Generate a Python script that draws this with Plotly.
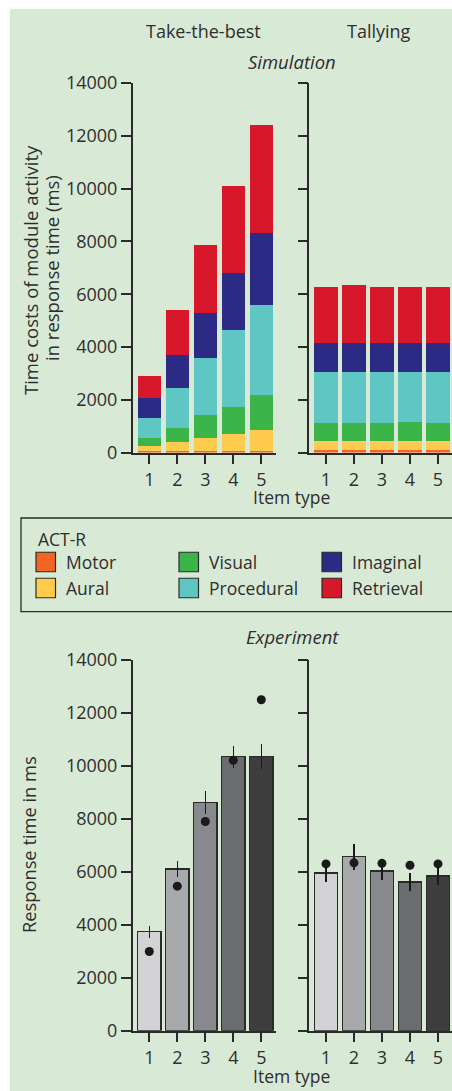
import plotly.graph_objects as go

# ---------------- data ----------------
item_types = [1, 2, 3, 4, 5]
y_ticks = [0, 2000, 4000, 6000, 8000, 10000, 12000, 14000]
y_ticktext = ["0", "2000", "4000", "6000", "8000", "10000", "12000", "14000"]

modules = ["Motor", "Aural", "Visual", "Procedural", "Imaginal", "Retrieval"]
module_colors = ["#f26522", "#ffcb4f", "#3bb44a", "#5fc6c3", "#2b2a84", "#d7182a"]

# Simulation (stacked module time costs, ms)
ttb_motor = [60, 60, 60, 60, 60]
ttb_aural = [190, 340, 500, 640, 800]
ttb_visual = [300, 530, 860, 1030, 1330]
ttb_procedural = [760, 1520, 2160, 2910, 3400]
ttb_imaginal = [760, 1250, 1710, 2170, 2730]
ttb_retrieval = [830, 1700, 2570, 3290, 4080]

tal_motor = [100, 100, 100, 100, 100]
tal_aural = [340, 340, 340, 340, 340]
tal_visual = [680, 680, 680, 720, 680]
tal_procedural = [1930, 1930, 1930, 1890, 1930]
tal_imaginal = [1100, 1100, 1100, 1100, 1100]
tal_retrieval = [2120, 2200, 2120, 2120, 2120]

# Experiment (mean response time, SE) and model predictions (dots)
ttb_rt = [3740, 6110, 8620, 10350, 10350]
ttb_err = [220, 290, 420, 420, 480]
ttb_model = [2990, 5460, 7900, 10210, 12500]

tal_rt = [5950, 6570, 6030, 5620, 5840]
tal_err = [350, 500, 320, 350, 350]
tal_model = [6300, 6340, 6320, 6250, 6300]

bar_grays = ["#d3d3d5", "#a8a9ab", "#88898c", "#6b6c6f", "#3e3e3f"]

# ---------------- figure ----------------
W, H = 452, 1091
FONT = "Open Sans"
TXT = "#2e2e2e"
AX = "#2a2a2a"
BG = "#d8ead5"


def px(x):
    return x / W


def py(y):
    return 1 - y / H


fig = go.Figure()

ttb_stack = [ttb_motor, ttb_aural, ttb_visual, ttb_procedural, ttb_imaginal, ttb_retrieval]
tal_stack = [tal_motor, tal_aural, tal_visual, tal_procedural, tal_imaginal, tal_retrieval]

for name, col, vals in zip(modules, module_colors, ttb_stack):
    fig.add_trace(go.Bar(x=item_types, y=vals, name=name, marker=dict(color=col, line=dict(width=0)),
                         width=0.83, xaxis="x", yaxis="y", showlegend=False))
for name, col, vals in zip(modules, module_colors, tal_stack):
    fig.add_trace(go.Bar(x=item_types, y=vals, name=name, marker=dict(color=col, line=dict(width=0)),
                         width=0.83, xaxis="x2", yaxis="y2", showlegend=False))

for xa, ya, rt, err, model in [("x3", "y3", ttb_rt, ttb_err, ttb_model),
                               ("x4", "y4", tal_rt, tal_err, tal_model)]:
    fig.add_trace(go.Bar(x=item_types, y=rt, width=0.83,
                         marker=dict(color=bar_grays, line=dict(color=AX, width=1.4)),
                         error_y=dict(type="data", array=err, visible=True, color="#1a1a1a",
                                      thickness=1.6, width=0),
                         xaxis=xa, yaxis=ya, showlegend=False))
    fig.add_trace(go.Scatter(x=item_types, y=model, mode="markers",
                             marker=dict(color="#1a1a1a", size=9),
                             xaxis=xa, yaxis=ya, showlegend=False))

common_x = dict(tickvals=item_types, ticks="outside", ticklen=10, tickwidth=1.5, tickcolor=AX,
                showline=True, linewidth=1.5, linecolor=AX, showgrid=False, zeroline=False,
                automargin=False,
                tickfont=dict(family=FONT, size=18, color=TXT), fixedrange=True)
common_y = dict(range=[0, 14000], tickvals=y_ticks, ticktext=y_ticktext, ticks="outside",
                ticklen=10, tickwidth=1.5, tickcolor=AX, showline=True, linewidth=1.5,
                linecolor=AX, showgrid=False, zeroline=False, automargin=False,
                tickfont=dict(family=FONT, size=18, color=TXT), fixedrange=True)

left_dom = [px(132.7), px(275.7)]
right_dom = [px(309.3), 1.0]
top_dom = [py(452.6), py(83)]
bot_dom = [py(1030.7), py(660)]

fig.update_layout(
    width=W, height=H,
    margin=dict(l=0, r=0, t=0, b=0, autoexpand=False),
    paper_bgcolor="white",
    plot_bgcolor="rgba(0,0,0,0)",
    barmode="stack",
    showlegend=False,
    font=dict(family=FONT, size=17, color=TXT),
    xaxis=dict(domain=left_dom, range=[0.407, 5.514], anchor="y", **common_x),
    yaxis=dict(domain=top_dom, anchor="x", **common_y),
    xaxis2=dict(domain=right_dom, range=[0.404, 5.5], anchor="y2", **common_x),
    yaxis2=dict(domain=top_dom, anchor="x2", showticklabels=False, **common_y),
    xaxis3=dict(domain=left_dom, range=[0.407, 5.514], anchor="y3", **common_x),
    yaxis3=dict(domain=bot_dom, anchor="x3", **common_y),
    xaxis4=dict(domain=right_dom, range=[0.404, 5.5], anchor="y4", **common_x),
    yaxis4=dict(domain=bot_dom, anchor="x4", showticklabels=False, **common_y),
)

# legend frame: open on the right (runs off the page edge in the reference)
lx0, lx1 = px(21), 1.0
ly0, ly1 = py(611.7), py(518)
shapes = [
    dict(type="rect", xref="paper", yref="paper", x0=px(10), x1=1.0, y0=0, y1=py(9),
         fillcolor=BG, line=dict(width=0), layer="below"),
    dict(type="path", xref="paper", yref="paper",
         path=f"M {lx1} {ly1} L {lx0} {ly1} L {lx0} {ly0} L {lx1} {ly0}",
         line=dict(color=AX, width=1.3), layer="above"),
]

annotations = []


def ann(x, y, text, size=17, italic=False, xanchor="center", angle=0):
    t = f"<i>{text}</i>" if italic else text
    annotations.append(dict(x=px(x), y=py(y), xref="paper", yref="paper", text=t,
                            showarrow=False, xanchor=xanchor, yanchor="middle",
                            textangle=angle, font=dict(family=FONT, size=size, color=TXT)))


ann(203, 31, "Take-the-best", size=18)
ann(379, 31, "Tallying", size=18)
ann(292, 61, "Simulation", size=18.5, italic=True)
ann(292, 636, "Experiment", size=18.5, italic=True)
ann(291.5, 497, "Item type", size=17.5)
ann(291.5, 1076, "Item type", size=17.5)
ann(30, 270, "Time costs of module activity", size=18.5, angle=-90)
ann(51, 268, "in response time (ms)", size=18.5, angle=-90)
ann(28, 845, "Response time in ms", size=18.3, angle=-90)

# legend (ACT-R modules)
ann(36, 539, "ACT-R", size=17.5, xanchor="left")
legend_order = ["Motor", "Visual", "Imaginal", "Aural", "Procedural", "Retrieval"]
col_x = [36, 179, 322]
row_y = [562, 588]
for i, name in enumerate(legend_order):
    cx = col_x[i % 3]
    cy = row_y[i // 3]
    color = module_colors[modules.index(name)]
    shapes.append(dict(type="rect", xref="paper", yref="paper", x0=px(cx), x1=px(cx + 19.5),
                       y0=py(cy + 9.75), y1=py(cy - 9.75), fillcolor=color,
                       line=dict(color=AX, width=1.2), layer="above"))
    ann(cx + 27.5, cy, name, size=17.5, xanchor="left")

fig.update_layout(shapes=shapes, annotations=annotations)

post_js = (
    "document.documentElement.style.margin='0';document.documentElement.style.padding='0';"
    "document.documentElement.style.overflow='hidden';"
    "document.body.style.margin='0';document.body.style.padding='0';"
    "document.body.style.overflow='hidden';"
)

fig.write_html("out.html", post_script=post_js, config={"displayModeBar": False})
